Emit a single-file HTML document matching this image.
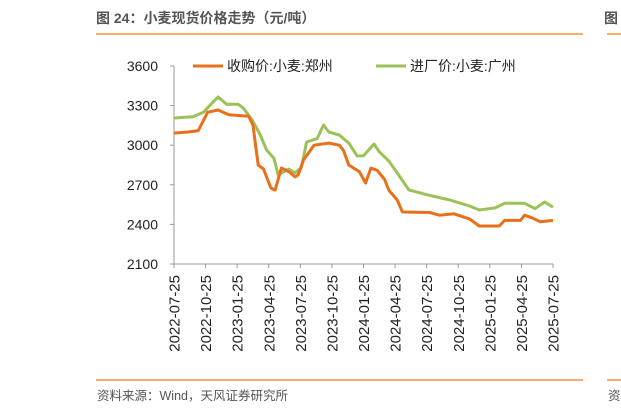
<!DOCTYPE html>
<html><head><meta charset="utf-8"><style>
body{margin:0;background:#fff;width:621px;height:415px;overflow:hidden;font-family:"Liberation Sans","Noto Sans CJK SC",sans-serif}
</style></head><body>
<svg width="621" height="415" xmlns="http://www.w3.org/2000/svg" style="font-family:'Liberation Sans','Noto Sans CJK SC',sans-serif">
<text x="96" y="23" font-size="14" font-weight="bold" fill="#555">图 24：小麦现货价格走势（元/吨）</text>
<text x="604" y="23" font-size="14" font-weight="bold" fill="#555">图</text>
<line x1="96" y1="34" x2="583" y2="34" stroke="#f39233" stroke-width="1.5"/>
<line x1="607" y1="34" x2="621" y2="34" stroke="#f39233" stroke-width="1.5"/>
<line x1="96" y1="380" x2="583" y2="380" stroke="#f39233" stroke-width="1.5"/>
<line x1="607" y1="380" x2="621" y2="380" stroke="#f39233" stroke-width="1.5"/>
<text x="97" y="400" font-size="12.5" fill="#555">资料来源：Wind，天风证券研究所</text>
<text x="608" y="400" font-size="12.5" fill="#555">资</text>
<g>
<line x1="193" y1="66" x2="223" y2="66" stroke="#e8701a" stroke-width="3"/>
<text x="227" y="71" font-size="14" fill="#222">收购价:小麦:郑州</text>
<line x1="376" y1="66" x2="406" y2="66" stroke="#9bc159" stroke-width="3"/>
<text x="410" y="71" font-size="14" fill="#222">进厂价:小麦:广州</text>
</g>
<g id="axes"></g>
<g id="series"></g>
</svg>
<script>
const yTicks=[2100,2400,2700,3000,3300,3600];
const xTickLabels=["2022-07-25","2022-10-25","2023-01-25","2023-04-25","2023-07-25","2023-10-25","2024-01-25","2024-04-25","2024-07-25","2024-10-25","2025-01-25","2025-04-25","2025-07-25"];
const zzMonths=[0,1.3,2.3,3.2,4.2,5.2,7.1,7.5,8.0,8.5,9.2,9.6,10.2,10.9,11.5,11.8,12.3,13.3,14.7,15.7,16.1,16.6,17.6,18.2,18.7,19.3,20.0,20.4,21.2,21.7,24.3,25.2,26.6,28.1,29.0,30.9,31.4,32.9,33.3,34.0,34.8,36];
const zzValues=[3092,3100,3110,3250,3267,3230,3220,3150,2850,2820,2676,2660,2827,2800,2760,2775,2888,3000,3016,3000,2960,2850,2800,2714,2827,2810,2740,2660,2585,2494,2490,2470,2480,2440,2388,2388,2430,2430,2470,2450,2420,2430];
const gzMonths=[0,1.8,2.8,3.7,4.2,5.0,6.1,6.6,7.5,8.2,8.8,9.5,9.9,10.9,11.5,12.1,12.6,13.6,14.2,14.7,15.7,16.6,17.4,18.0,19.0,19.5,20.4,21.2,22.3,24.3,26.2,28.1,29.0,30.5,31.4,33.3,34.3,35.2,36];
const gzValues=[3206,3215,3250,3327,3365,3310,3310,3280,3180,3077,2964,2900,2774,2820,2790,2830,3024,3050,3153,3100,3077,3016,2918,2920,3009,2950,2880,2790,2661,2620,2585,2539,2509,2525,2560,2560,2520,2570,2530];
const NS="http://www.w3.org/2000/svg";
const X0=174,X1=553,Y0=264,Y1=66;
function xs(m){return X0+(m/36)*(X1-X0);}
function ys(v){return Y0-(v-2100)/1500*(Y0-Y1);}
function mk(t,a,p){const e=document.createElementNS(NS,t);for(const k in a)e.setAttribute(k,a[k]);p.appendChild(e);return e;}
const ax=document.getElementById('axes');
const yl=mk('line',{x1:X0,y1:Y1,x2:X0,y2:Y0,stroke:'#999'},ax);


const xl=mk('line',{x1:X0,y1:Y0,x2:X1,y2:Y0,stroke:'#999'},ax);


yTicks.forEach(v=>{
 const tk=mk('line',{x1:X0-4,y1:ys(v),x2:X0,y2:ys(v),stroke:'#999'},ax);
 
 
 const t=mk('text',{x:158,y:ys(v)+5,'font-size':14,'text-anchor':'end',fill:'#222'},ax);
 t.textContent=v;
 
 
});
xTickLabels.forEach((s,i)=>{
 const x=xs(i*3);
 const tk=mk('line',{x1:x,y1:Y0,x2:x,y2:Y0+4,stroke:'#999'},ax);
 
 
 const t=mk('text',{x:x+5.5,y:Y0+11,'font-size':15,'text-anchor':'end',fill:'#222',transform:`rotate(-90 ${x+5.5} ${Y0+11})`},ax);
 t.textContent=s;
 
 
});
const sg=document.getElementById('series');
function line(ms,vs,c,name){
 const d=ms.map((m,i)=>(i?'L':'M')+xs(m).toFixed(1)+','+ys(vs[i]).toFixed(1)).join('');
 const p=mk('path',{d:d,fill:'none',stroke:c,'stroke-width':3,'stroke-linejoin':'round'},sg);
 
 
}
line(gzMonths,gzValues,'#9bc159','series-guangzhou-line');
line(zzMonths,zzValues,'#e8701a','series-zhengzhou-line');
</script>
</body></html>
